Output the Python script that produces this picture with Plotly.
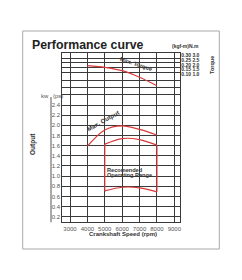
import plotly.graph_objects as go

# ---- data ----
rpm = [4000, 5000, 6000, 7000, 8000]
max_torque_nm = [1.91, 1.73, 1.36, 0.64, -0.28]
max_output_ps = [1.59, 1.91, 1.99, 1.92, 1.81]

range_rpm = [5000, 6000, 7000, 8000]
range_top_ps = [1.63, 1.74, 1.72, 1.61]
range_bottom_ps = [0.71, 0.78, 0.77, 0.69]

x_ticks = [3000, 4000, 5000, 6000, 7000, 8000, 9000]
ps_ticks = [0.2, 0.4, 0.6, 0.8, 1.0, 1.2, 1.4, 1.6, 1.8, 2.0, 2.2, 2.4]
ps_extra_grid = [2.61, 2.75, 2.89, 3.04, 3.14, 3.23, 3.32]
kw_ticks = [0.2, 0.4, 0.6, 0.8, 1.0, 1.2, 1.4, 1.6, 1.8]
torque_nm_ticks = [1.0, 1.5, 2.0, 2.5, 3.0]
torque_kgfm_ticks = [0.10, 0.15, 0.20, 0.25, 0.30]

W, H = 242, 280
PS_PER_KW = 1.35962
ps_range = [0.09, 3.419]
x_range = [2557, 9345]
torque_range = [-15.19, 3.26]

RED = "#d9383a"
GRID = "#3a3a3a"
TXT = "#333333"
FONT = "Liberation Sans, Arial, sans-serif"


def px(x):
    return x / W


def py(y):
    return 1 - y / H


fig = go.Figure()

fig.add_trace(go.Scatter(x=rpm, y=max_torque_nm, yaxis="y3", mode="lines",
                         line=dict(color=RED, width=1.2, shape="spline", smoothing=0.8),
                         hoverinfo="skip", showlegend=False))
fig.add_trace(go.Scatter(x=rpm, y=max_output_ps, mode="lines",
                         line=dict(color=RED, width=1.2, shape="spline", smoothing=0.9),
                         hoverinfo="skip", showlegend=False))
fig.add_trace(go.Scatter(x=range_rpm, y=range_top_ps, mode="lines",
                         line=dict(color=RED, width=1.2, shape="spline", smoothing=0.9),
                         hoverinfo="skip", showlegend=False))
fig.add_trace(go.Scatter(x=range_rpm, y=range_bottom_ps, mode="lines",
                         line=dict(color=RED, width=1.2, shape="spline", smoothing=0.9),
                         hoverinfo="skip", showlegend=False))
fig.add_trace(go.Scatter(
    x=[range_rpm[0], range_rpm[0], None, range_rpm[-1], range_rpm[-1]],
    y=[range_top_ps[0], range_bottom_ps[0], None, range_top_ps[-1], range_bottom_ps[-1]],
    mode="lines", line=dict(color=RED, width=1.2),
    hoverinfo="skip", showlegend=False))

dom_y = [py(222.3), py(53.3)]

fig.update_layout(
    width=W, height=H, autosize=False,
    margin=dict(l=0, r=0, t=0, b=0, pad=0),
    paper_bgcolor="white", plot_bgcolor="white",
    font=dict(family=FONT, color=TXT, size=6),
    xaxis=dict(domain=[px(62.3), px(180.3)], range=x_range,
               tickmode="array", tickvals=x_ticks, ticktext=[str(v) for v in x_ticks],
               showgrid=True, gridcolor=GRID, gridwidth=0.8,
               showline=True, linecolor=GRID, linewidth=1, mirror=True,
               zeroline=False, ticks="", tickfont=dict(size=6, color="#555")),
    yaxis=dict(domain=dom_y, range=ps_range,
               tickmode="array", tickvals=ps_ticks + ps_extra_grid,
               ticktext=[f"{v:.1f}" for v in ps_ticks] + [""] * len(ps_extra_grid),
               showgrid=True, gridcolor=GRID, gridwidth=0.8,
               showline=True, linecolor=GRID, linewidth=1, mirror=True,
               zeroline=False, ticks="", tickfont=dict(size=6, color="#555")),
    yaxis2=dict(overlaying="y", side="left", anchor="free", position=px(49.5),
                range=[ps_range[0] / PS_PER_KW, ps_range[1] / PS_PER_KW],
                tickmode="array", tickvals=kw_ticks, ticktext=[f"{v:.1f}" for v in kw_ticks],
                showgrid=False, showline=False, zeroline=False, ticks="",
                tickfont=dict(size=6, color="#555")),
    yaxis3=dict(overlaying="y", side="right", anchor="x", range=torque_range,
                tickmode="array", tickvals=torque_nm_ticks,
                ticktext=[f"<b>{k:.2f} {n:.1f}</b>" for k, n in zip(torque_kgfm_ticks, torque_nm_ticks)],
                showgrid=False, showline=False, zeroline=False, ticks="",
                tickfont=dict(size=5, color=TXT)),
)

shapes = [
    dict(type="rect", xref="paper", yref="paper", x0=px(22.7), x1=px(219.3), y0=py(249), y1=py(31),
         line=dict(color="#a8a8a8", width=1), layer="below"),
    dict(type="line", xref="paper", yref="paper", x0=px(51), x1=px(51), y0=py(222.3), y1=py(97),
         line=dict(color="#555", width=1)),
]
fig.update_layout(shapes=shapes)

ann = []


def text(x, y, s, size=6, bold=False, angle=0, xanchor="center", color=TXT):
    ann.append(dict(xref="paper", yref="paper", x=px(x), y=py(y), text=f"<b>{s}</b>" if bold else s,
                    showarrow=False, textangle=angle, xanchor=xanchor, yanchor="middle",
                    font=dict(size=size, color=color, family=FONT)))


text(30, 44.5, "Performance curve", size=12.3, bold=True, xanchor="left", color="#222")
text(170, 46.5, "(kgf-m)N.m", size=5, bold=True, xanchor="left")
text(212, 65, "Torque", size=5.5, bold=True, angle=-90)
text(39, 96, "kw", size=6, xanchor="left", color="#555")
text(51, 96, "(ps)", size=6, xanchor="left", color="#555")
text(33, 144, "Output", size=6.5, bold=True, angle=-90)
text(122.5, 233.5, "Crankshaft Speed (rpm)", size=6, bold=True)
text(136, 64.5, "Max. Torque", size=5.8, bold=True, angle=18.5)
text(103, 120.5, "Max. Output", size=6.2, bold=True, angle=-29)
text(105, 169.5, "Recomended", size=5.6, bold=True, xanchor="left")
text(105, 174.5, "Operating Range", size=5.6, bold=True, xanchor="left")
fig.update_layout(annotations=ann)

fig.write_html("out.html")
